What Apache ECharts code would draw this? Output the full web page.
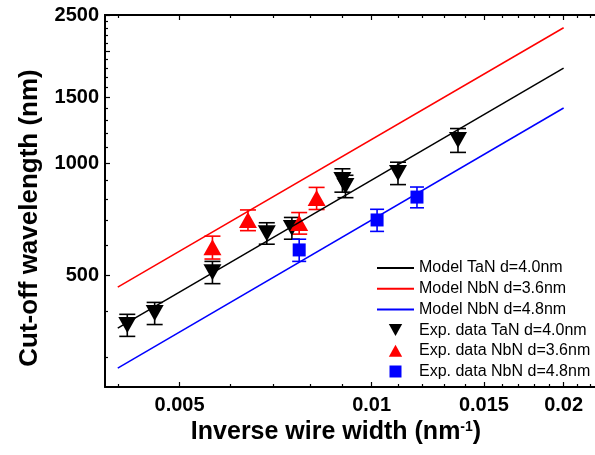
<!DOCTYPE html>
<html>
<head>
<meta charset="utf-8">
<script src="https://cdn.jsdelivr.net/npm/echarts@6/dist/echarts.min.js"></script>
<style>
  html, body { margin: 0; padding: 0; background: #fff; }
  #chart { width: 595px; height: 455px; }
</style>
</head>
<body>
<div id="chart"></div>
<script>
// model lines (power law, straight in log-log)
var modelX = [0.004, 0.02];
var modelTaN = [360, 1800];
var modelNbN36 = [464, 2310];
var modelNbN48 = [281, 1406];

// experimental data
var taNX = [0.00414, 0.00457, 0.00563, 0.00685, 0.0075, 0.0090, 0.0091, 0.0110, 0.01366];
var taNY = [367, 395, 509, 648, 669, 900, 867, 940, 1153];
var taNErr = [25, 27, 35, 43, 45, 65, 60, 65, 85];

var nbN36X = [0.00563, 0.0064, 0.0077, 0.0082];
var nbN36Y = [594, 703, 690, 805];
var nbN36Err = [42, 45, 46, 55];

var nbN48X = [0.0077, 0.0102, 0.01178];
var nbN48Y = [584, 703, 810];
var nbN48Err = [40, 48, 52];

// axes
var xRange = [0.00382, 0.0224];
var yRange = [250, 2500];
var xMajor = [0.005, 0.01, 0.015, 0.02];
var xMinor = [0.004, 0.006, 0.007, 0.008, 0.009, 0.011, 0.012, 0.013, 0.014, 0.016, 0.017, 0.018, 0.019, 0.021, 0.022];
var yMajor = [500, 1000, 1500, 2000, 2500];
var yLabels = [500, 1000, 1500, 2500];
var yMinor = [300, 400, 600, 700, 800, 900, 1100, 1200, 1300, 1400, 1600, 1700, 1800, 1900, 2100, 2200, 2300, 2400];

var names = ['Model TaN d=4.0nm', 'Model NbN d=3.6nm', 'Model NbN d=4.8nm',
  'Exp. data TaN d=4.0nm', 'Exp. data NbN d=3.6nm', 'Exp. data NbN d=4.8nm'];

var lg = Math.log10;
var font = '"Liberation Sans", Arial, sans-serif';
var downTri = 'path://M0,0 L20,0 L10,18 Z';
var upTri = 'path://M10,0 L20,18 L0,18 Z';
var square = 'path://M0,0 L10,0 L10,10 L0,10 Z';

function pts(xs, ys) {
  return xs.map(function (x, i) { return [lg(x), lg(ys[i])]; });
}
function errs(xs, ys, es) {
  return xs.map(function (x, i) { return [lg(x), lg(ys[i] - es[i]), lg(ys[i] + es[i])]; });
}
function errRender(color, hw) {
  return function (params, api) {
    var top = api.coord([api.value(0), api.value(2)]);
    var bot = api.coord([api.value(0), api.value(1)]);
    var st = { stroke: color, lineWidth: 1.6 };
    return {
      type: 'group',
      children: [
        { type: 'line', shape: { x1: top[0], y1: top[1], x2: bot[0], y2: bot[1] }, style: st },
        { type: 'line', shape: { x1: top[0] - hw, y1: top[1], x2: top[0] + hw, y2: top[1] }, style: st },
        { type: 'line', shape: { x1: bot[0] - hw, y1: bot[1], x2: bot[0] + hw, y2: bot[1] }, style: st }
      ]
    };
  };
}

function xAx(pos, ticks, len, main) {
  return {
    type: 'value', position: pos,
    min: lg(xRange[0]), max: lg(xRange[1]),
    splitLine: { show: false },
    axisLine: { show: main || pos === 'top', lineStyle: { color: '#000', width: 2 } },
    axisTick: { inside: true, length: len, customValues: ticks.map(lg), lineStyle: { color: '#000', width: 1.2 } },
    axisLabel: main ? {
      customValues: xMajor.map(lg), margin: 8,
      fontFamily: font, fontWeight: 'bold', fontSize: 20, color: '#000',
      formatter: function (v) { return String(+Math.pow(10, v).toPrecision(3)); }
    } : { show: false },
    name: main ? 'Inverse wire width (nm{sup|-1})' : '',
    nameLocation: 'middle', nameGap: 27,
    nameTextStyle: {
      fontFamily: font, fontWeight: 'bold', fontSize: 25, color: '#000', padding: [0, 28, 0, 0],
      rich: { sup: { fontFamily: font, fontWeight: 'bold', fontSize: 14, verticalAlign: 'top', color: '#000' } }
    }
  };
}
function yAx(ticks, len, main) {
  return {
    type: 'value', position: 'left',
    min: lg(yRange[0]), max: lg(yRange[1]),
    splitLine: { show: false },
    axisLine: { show: main, lineStyle: { color: '#000', width: 2 } },
    axisTick: { inside: true, length: len, customValues: ticks.map(lg), lineStyle: { color: '#000', width: 1.2 } },
    axisLabel: main ? {
      customValues: yLabels.map(lg), margin: 6,
      fontFamily: font, fontWeight: 'bold', fontSize: 20, color: '#000',
      formatter: function (v) { return String(Math.round(Math.pow(10, v))); }
    } : { show: false },
    name: main ? 'Cut-off wavelength (nm)' : '',
    nameLocation: 'middle', nameGap: 62,
    nameTextStyle: { fontFamily: font, fontWeight: 'bold', fontSize: 26, color: '#000', padding: [0, 34, 0, 0] }
  };
}

var chart = echarts.init(document.getElementById('chart'));
chart.setOption({
  animation: false,
  backgroundColor: '#fff',
  grid: { left: 105, top: 15, right: 0, bottom: 68 },
  xAxis: [
    xAx('bottom', xMajor, 5, true),
    xAx('bottom', xMinor, 3, false),
    xAx('top', xMajor, 5, false),
    xAx('top', xMinor, 3, false)
  ],
  yAxis: [
    yAx(yMajor, 5, true),
    yAx(yMinor, 3, false)
  ],
  legend: {
    orient: 'vertical', left: 376, top: 260, padding: 0,
    itemWidth: 37, itemHeight: 12, itemGap: 4.7, symbolKeepAspect: true,
    textStyle: { fontFamily: font, fontSize: 16, lineHeight: 16, color: '#000' },
    data: [
      { name: names[0], itemStyle: { opacity: 0 } },
      { name: names[1], itemStyle: { opacity: 0 } },
      { name: names[2], itemStyle: { opacity: 0 } },
      { name: names[3], icon: downTri },
      { name: names[4], icon: upTri },
      { name: names[5], icon: square }
    ]
  },
  series: [
    { name: names[0], type: 'line', symbol: 'none', data: pts(modelX, modelTaN), lineStyle: { color: '#000', width: 1.5 }, itemStyle: { color: '#000' } },
    { name: names[1], type: 'line', symbol: 'none', data: pts(modelX, modelNbN36), lineStyle: { color: '#ff0000', width: 1.5 }, itemStyle: { color: '#ff0000' } },
    { name: names[2], type: 'line', symbol: 'none', data: pts(modelX, modelNbN48), lineStyle: { color: '#0000ff', width: 1.5 }, itemStyle: { color: '#0000ff' } },
    { type: 'custom', z: 1, renderItem: errRender('#000', 8), data: errs(taNX, taNY, taNErr), encode: { x: 0, y: [1, 2] } },
    { type: 'custom', z: 1, renderItem: errRender('#ff0000', 8), data: errs(nbN36X, nbN36Y, nbN36Err), encode: { x: 0, y: [1, 2] } },
    { type: 'custom', z: 1, renderItem: errRender('#0000ff', 7), data: errs(nbN48X, nbN48Y, nbN48Err), encode: { x: 0, y: [1, 2] } },
    { name: names[3], type: 'scatter', symbol: downTri, symbolSize: [18, 16], data: pts(taNX, taNY), itemStyle: { color: '#000', opacity: 1 } },
    { name: names[4], type: 'scatter', symbol: upTri, symbolSize: [18, 16], data: pts(nbN36X, nbN36Y), itemStyle: { color: '#ff0000', opacity: 1 } },
    { name: names[5], type: 'scatter', symbol: square, symbolSize: 13, data: pts(nbN48X, nbN48Y), itemStyle: { color: '#0000ff', opacity: 1 } }
  ]
});
</script>
</body>
</html>
